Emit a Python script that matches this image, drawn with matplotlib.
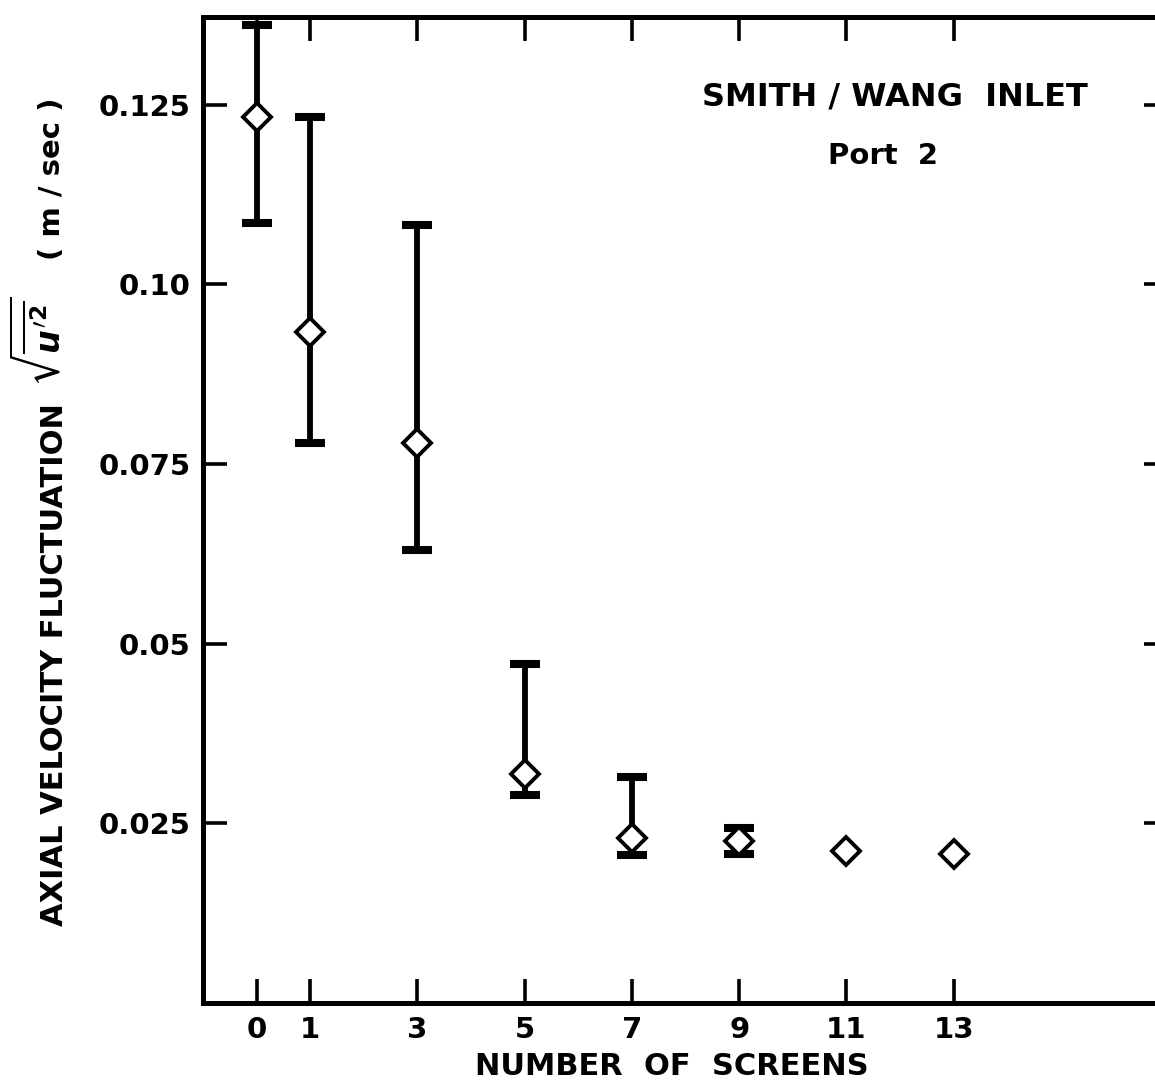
import numpy as np
import matplotlib
matplotlib.use("Agg")
import matplotlib.pyplot as plt

# number of screens vs axial velocity fluctuation (m/sec)
screens = [0, 1, 3, 5, 7, 9, 11, 13]
fluct = [0.1233, 0.0933, 0.0779, 0.0318, 0.0229, 0.0225, 0.0212, 0.0208]
# error bar ends (nan where no bar was measured)
err_top = [0.1361, 0.1233, 0.1083, 0.0472, 0.0314, 0.0243, np.nan, np.nan]
err_bot = [0.1085, 0.0779, 0.0631, 0.0290, 0.0206, 0.0208, np.nan, np.nan]

xticks = [0, 1, 3, 5, 7, 9, 11, 13]
yticks = [0.025, 0.05, 0.075, 0.10, 0.125]
ytick_labels = ["0.025", "0.05", "0.075", "0.10", "0.125"]

plt.rcParams['font.family'] = ['DejaVu Sans']
plt.rcParams['font.weight'] = 'bold'
plt.rcParams['mathtext.fontset'] = 'dejavusans'

W, H = 1155, 1086
fig = plt.figure(figsize=(W / 100, H / 100), dpi=100)
ax = fig.add_axes([0.1758, 0.0764, 0.8355, 0.908])

x = np.array(screens, dtype=float)
y = np.array(fluct)
top = np.array(err_top)
bot = np.array(err_bot)
has_err = ~np.isnan(top)

ax.errorbar(x[has_err], y[has_err],
            yerr=[y[has_err] - bot[has_err], top[has_err] - y[has_err]],
            fmt='none', ecolor='black', elinewidth=4.2, capsize=11, capthick=5.8,
            zorder=2)
ax.plot(x, y, linestyle='none', marker='D', markersize=14,
        markerfacecolor='white', markeredgecolor='black', markeredgewidth=2.8,
        zorder=3)

ax.set_xlim(-1, 17)
ax.set_ylim(0, 0.1372)

ax.set_xticks(xticks)
ax.set_xticklabels([str(v) for v in xticks])
ax.set_yticks(yticks)
ax.set_yticklabels(ytick_labels)

ax.tick_params(axis='both', direction='in', length=17, width=2.6,
               top=True, right=True, labelsize=21, pad=9)
for lab in ax.get_xticklabels() + ax.get_yticklabels():
    lab.set_fontweight('bold')

for sp in ax.spines.values():
    sp.set_linewidth(3.6)

ax.set_xlabel("NUMBER  OF  SCREENS", fontsize=22, fontweight='bold')
ax.xaxis.set_label_coords(0.486, -0.05)

# y label built from three rotated pieces
fig.text(55 / W, 1 - 665 / H, "AXIAL VELOCITY FLUCTUATION", rotation=90,
         fontsize=22, fontweight='bold', ha='center', va='center')
fig.text(40 / W, 1 - 341 / H, r"$\sqrt{\overline{u'^2}}$", rotation=90,
         fontsize=24, ha='center', va='center')
fig.text(52 / W, 1 - 179 / H, "( m / sec )", rotation=90,
         fontsize=21, fontweight='bold', ha='center', va='center')

ax.text(11.91, 0.1260, "SMITH / WANG  INLET", fontsize=23, fontweight='bold',
        ha='center', va='center')
ax.text(11.69, 0.1178, "Port  2", fontsize=21, fontweight='bold',
        ha='center', va='center')

fig.savefig("out.png", dpi=100)
